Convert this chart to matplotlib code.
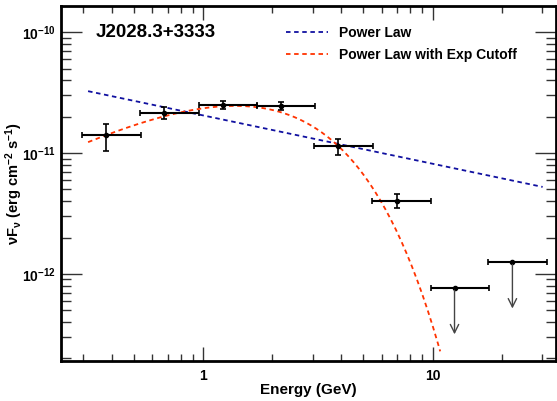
import numpy as np
import matplotlib
matplotlib.use("Agg")
import matplotlib.pyplot as plt
from matplotlib.ticker import LogLocator, NullFormatter, FixedLocator, FixedFormatter

plt.rcParams['font.family'] = ['Liberation Sans', 'DejaVu Sans']
plt.rcParams['font.weight'] = 'bold'
plt.rcParams['mathtext.fontset'] = 'custom'
plt.rcParams['mathtext.rm'] = 'Liberation Sans:bold'
plt.rcParams['mathtext.bf'] = 'Liberation Sans:bold'
plt.rcParams['mathtext.default'] = 'bf'

# measured points (GeV, erg cm^-2 s^-1)
e_center = [0.377, 0.676, 1.215, 2.18, 3.89, 6.97]
e_low = [0.297, 0.533, 0.957, 1.71, 3.05, 5.46]
e_high = [0.537, 0.957, 1.71, 3.07, 5.51, 9.84]
flux = [1.41e-11, 2.13e-11, 2.49e-11, 2.47e-11, 1.14e-11, 3.98e-12]
flux_hi = [1.75e-11, 2.39e-11, 2.68e-11, 2.64e-11, 1.30e-11, 4.55e-12]
flux_lo = [1.05e-11, 1.92e-11, 2.33e-11, 2.27e-11, 0.97e-11, 3.50e-12]

# upper limits
ul_center = [12.47, 22.3]
ul_low = [9.84, 17.5]
ul_high = [17.6, 31.4]
ul_flux = [7.7e-13, 1.26e-12]

# fitted models
pl_norm = 2.05e-11     # E^2 dN/dE at 1 GeV
pl_index = 2.40
pl_range = [0.315, 30.2]
ec_norm = 4.78e-11
ec_index = 1.02
ec_cut = 1.407
ec_range = [0.315, 10.8]

fig = plt.figure(figsize=(5.57, 4.01), dpi=100)
ax = fig.add_axes([0.1095, 0.0998, 0.8885, 0.8852])
ax.set_xscale('log')
ax.set_yscale('log')
ax.set_xlim(0.24, 34.5)
ax.set_ylim(1.9e-13, 1.65e-10)

e = np.logspace(np.log10(pl_range[0]), np.log10(pl_range[1]), 200)
ax.plot(e, pl_norm * e ** (2 - pl_index), ls=(0, (2.5, 2)), color='#1010a0', lw=1.3, label='Power Law')
e2 = np.logspace(np.log10(ec_range[0]), np.log10(ec_range[1]), 200)
ax.plot(e2, ec_norm * e2 ** (2 - ec_index) * np.exp(-e2 / ec_cut), ls=(0, (2.5, 2)), color='#ff3300', lw=1.3,
        label='Power Law with Exp Cutoff')

ec = np.array(e_center)
fl = np.array(flux)
xerr = [ec - np.array(e_low), np.array(e_high) - ec]
yerr = [fl - np.array(flux_lo), np.array(flux_hi) - fl]
ax.errorbar(ec, fl, xerr=xerr, fmt='none', ecolor='black', elinewidth=1.5, capsize=2, capthick=1.2)
ax.errorbar(ec, fl, yerr=yerr, fmt='o', color='black', ms=3, ecolor='black', elinewidth=1.2, capsize=2, capthick=1.2)

uc = np.array(ul_center)
uf = np.array(ul_flux)
ax.errorbar(uc, uf, xerr=[uc - np.array(ul_low), np.array(ul_high) - uc], fmt='o', color='black', ms=3,
            ecolor='black', elinewidth=1.5, capsize=2, capthick=1.2)
for x, y in zip(uc, uf):
    ax.annotate('', xy=(x, y / 10 ** 0.41), xytext=(x, y),
                arrowprops=dict(arrowstyle='->', color='#444444', lw=1.0, mutation_scale=15))

for s in ax.spines.values():
    s.set_linewidth(2)

ax.xaxis.set_major_locator(FixedLocator([1, 10]))
ax.xaxis.set_major_formatter(FixedFormatter(['1', '10']))
ax.xaxis.set_minor_locator(LogLocator(base=10, subs=np.arange(2, 10)))
ax.xaxis.set_minor_formatter(NullFormatter())
ax.yaxis.set_major_locator(FixedLocator([1e-12, 1e-11, 1e-10]))
ax.yaxis.set_major_formatter(FixedFormatter([r'10$^{-12}$', r'10$^{-11}$', r'10$^{-10}$']))
ax.yaxis.set_minor_locator(LogLocator(base=10, subs=np.arange(2, 10)))
ax.yaxis.set_minor_formatter(NullFormatter())
ax.tick_params(which='both', direction='in', top=True, right=True, width=1, labelsize=10, color='#333333')
ax.tick_params(which='major', length=15)
ax.tick_params(which='minor', length=7)
ax.tick_params(axis='x', which='major', length=10, pad=6)
ax.tick_params(axis='x', which='minor', length=5)

ax.set_xlabel('Energy (GeV)', fontsize=11, fontweight='bold', labelpad=0)
ax.set_ylabel(r'$\nu$F$_{\nu}$ (erg cm$^{-2}$ s$^{-1}$)', fontsize=10.5, fontweight='bold')
ax.yaxis.set_label_coords(-0.072, 0.5)
ax.text(0.07, 0.925, 'J2028.3+3333', transform=ax.transAxes, fontsize=13.5, fontweight='bold', va='center')
ax.legend(loc='upper left', bbox_to_anchor=(0.43, 0.978), frameon=False, fontsize=10, handlelength=3.0,
          handletextpad=0.8, labelspacing=0.55)

fig.savefig('out.png', dpi=100)
